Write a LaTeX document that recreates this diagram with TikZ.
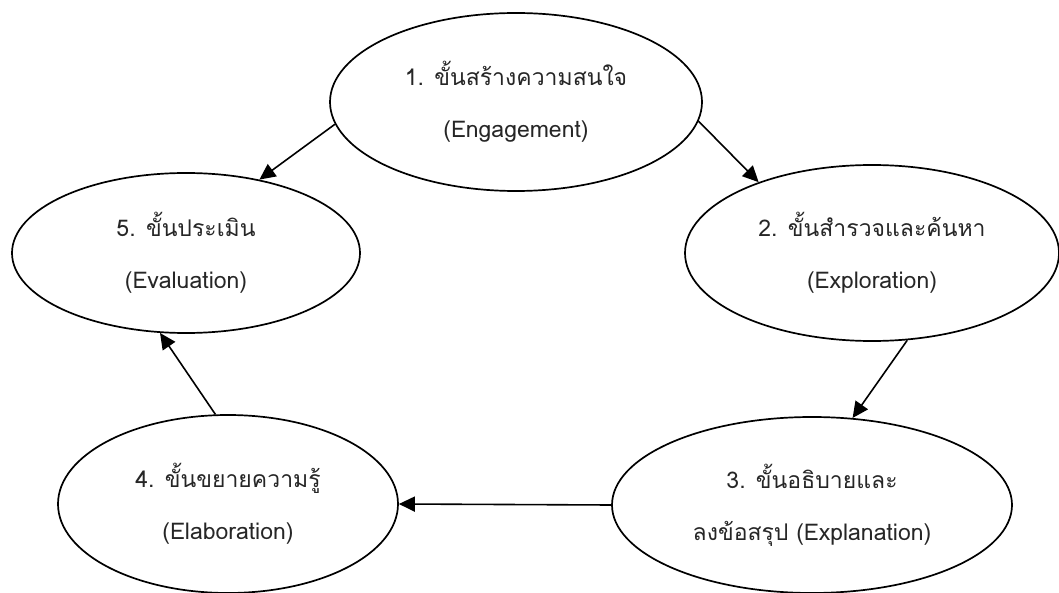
\documentclass[tikz,border=0pt]{standalone}
\usepackage{fontspec}
\setmainfont[Script=Thai]{Loma}
\usetikzlibrary{shapes.geometric,arrows.meta}
\tikzset{
  stage/.style={draw, line width=1.7pt, shape=ellipse, inner sep=0pt, align=center,
    font=\fontsize{23}{52}\selectfont, text=black!85},
  flow/.style={line width=1.6pt, -{Triangle[length=16pt,width=15pt]}}
}
\begin{document}
\begin{tikzpicture}[x=1pt,y=-1pt]
\useasboundingbox (0,0) rectangle (1059,593);
\node[stage, minimum width=372pt, minimum height=178pt] (e1) at (516,102) {1. ขั้นสร้างความสนใจ\\(Engagement)};
\node[stage, minimum width=374pt, minimum height=176pt] (e2) at (872,253) {2. ขั้นสำรวจและค้นหา\\(Exploration)};
\node[stage, minimum width=400pt, minimum height=176pt] (e3) at (812,505) {3. ขั้นอธิบายและ\\ลงข้อสรุป (Explanation)};
\node[stage, minimum width=340pt, minimum height=178pt] (e4) at (228,504) {4. ขั้นขยายความรู้\\(Elaboration)};
\node[stage, minimum width=348pt, minimum height=160pt] (e5) at (186,253) {5. ขั้นประเมิน\\(Evaluation)};
\draw[flow] (e1.187) -- (e5.45);
\draw[flow] (e1.354) -- (e2.148);
\draw[flow] (e2.292) -- (e3.65);
\draw[flow] (e3.west) -- (e4.east);
\draw[flow] (e4.98) -- (e5.252);
\end{tikzpicture}
\end{document}
